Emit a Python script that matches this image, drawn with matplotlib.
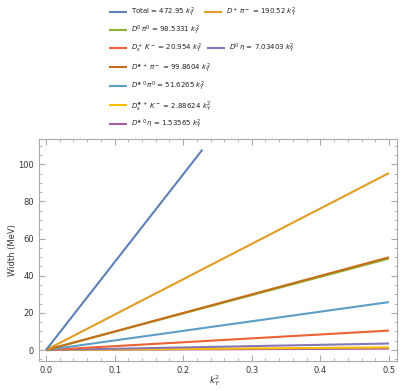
import matplotlib
matplotlib.use("Agg")
import matplotlib.pyplot as plt
from matplotlib.lines import Line2D
from matplotlib.ticker import MultipleLocator

# slopes (MeV per unit k_Y^2)
names = ["Total", r"$D^+\,\pi^-$", r"$D^0\,\pi^0$", r"$D_s^+\,K^-$", r"$D^0\,\eta$",
         r"$D^{\bigstar\,+}\,\pi^-$", r"$D^{\bigstar\,0}\,\pi^0$", r"$D_s^{\bigstar\,+}\,K^-$",
         r"$D^{\bigstar\,0}\,\eta$"]
slopes = [472.95, 190.52, 98.5331, 20.954, 7.03403, 99.8604, 51.6265, 2.88624, 1.53565]
slope_txt = ["472.95", "190.52", "98.5331", "20.954", "7.03403", "99.8604",
             "51.6265", "2.88624", "1.53565"]
colors = ["#5E81B5", "#E19C24", "#8FB032", "#EB6235", "#8778B3", "#C56E1A",
          "#5D9EC7", "#FFBF00", "#A5609D"]
x_end = [0.228, 0.5, 0.5, 0.5, 0.5, 0.5, 0.5, 0.5, 0.5]

fig = plt.figure(figsize=(4.07, 3.91), dpi=100)
ax = fig.add_axes([0.0958, 0.0767, 0.8796, 0.5678])

# draw small ones first so big ones sit on top like the original
order = [8, 7, 4, 3, 6, 2, 5, 1, 0]
for i in order:
    ax.plot([0, x_end[i]], [0, slopes[i] * x_end[i]], color=colors[i], lw=1.5,
            solid_capstyle="butt")

ax.set_xlim(-0.0102, 0.5117)
ax.set_ylim(-5.9, 113.6)
ax.xaxis.set_major_locator(MultipleLocator(0.1))
ax.xaxis.set_minor_locator(MultipleLocator(0.02))
ax.yaxis.set_major_locator(MultipleLocator(20))
ax.yaxis.set_minor_locator(MultipleLocator(5))
ax.xaxis.set_major_formatter(matplotlib.ticker.FormatStrFormatter("%.1f"))
gray = "#AAAAAA"
for s in ax.spines.values():
    s.set_color(gray)
ax.tick_params(which="both", direction="in", top=True, right=True, colors=gray,
               labelcolor="#333333", labelsize=6)
ax.tick_params(which="major", length=4)
ax.tick_params(which="minor", length=2)
ax.set_ylabel("Width (MeV)", fontsize=6, color="#333333")
ax.yaxis.set_label_coords(-0.062, 0.5)
ax.set_xlabel(r"$k_Y^2$", fontsize=6.5, color="#333333")
ax.xaxis.set_label_coords(0.49, -0.055)

# legend laid out like the original
W, H = 407.0, 391.0
rows = [[(0, 110, 12), (1, 205, 12)],
        [(2, 110, 30)],
        [(3, 110, 48), (4, 208, 48)],
        [(5, 110, 67)],
        [(6, 110, 86)],
        [(7, 110, 105)],
        [(8, 110, 124)]]
for row in rows:
    for i, px, py in row:
        fig.add_artist(Line2D([px / W, (px + 16) / W], [1 - py / H, 1 - py / H],
                              color=colors[i], lw=1.5, transform=fig.transFigure))
        fig.text((px + 21) / W, 1 - py / H, names[i] + " = " + slope_txt[i] + r" $k_Y^2$",
                 fontsize=5.0, color="#222222", va="center", ha="left")

fig.savefig("out.png", dpi=100)
